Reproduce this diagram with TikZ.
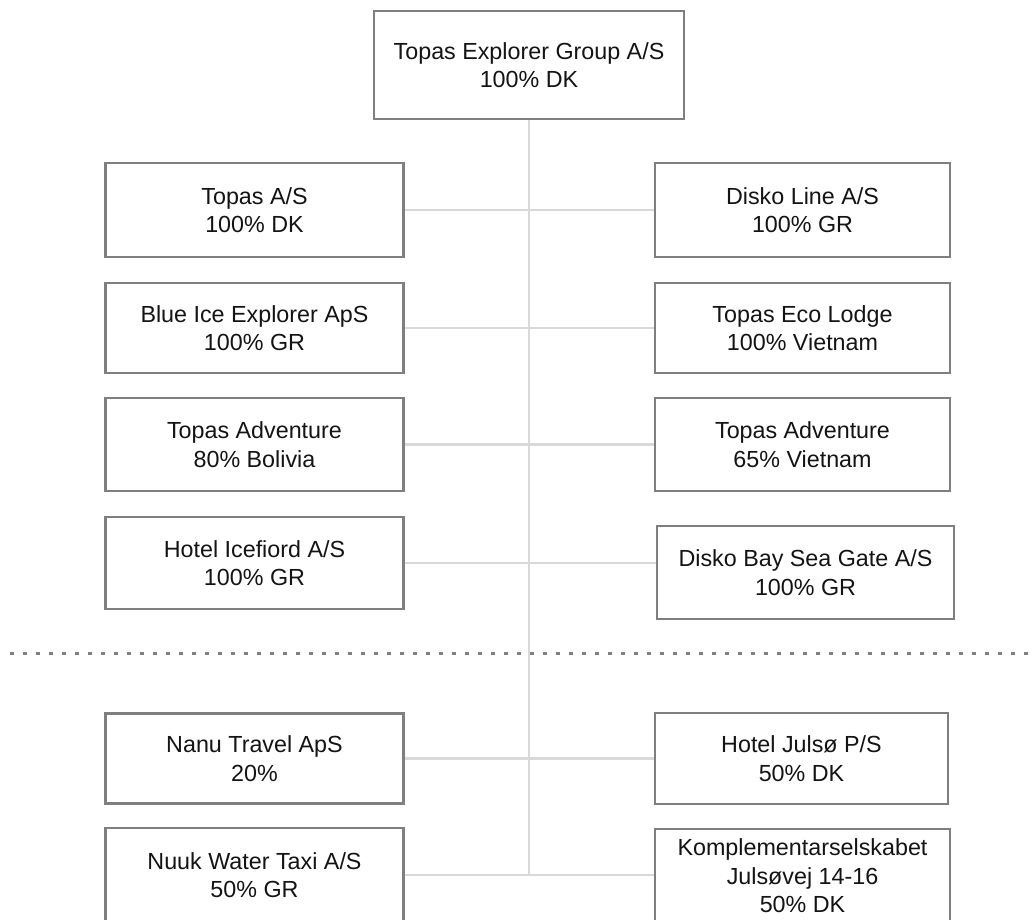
\documentclass[tikz,border=0pt]{standalone}
\usepackage{fontspec}
\setmainfont{Liberation Sans}
\definecolor{boxgray}{HTML}{7F7F7F}
\definecolor{conngray}{HTML}{D9D9D9}
\definecolor{dotgray}{HTML}{808080}
\definecolor{txt}{HTML}{141414}
\tikzset{
  orgbox/.style={draw=boxgray, line width=2.6pt, fill=white, align=center,
    text=txt, font=\fontsize{23.3}{28.5}\selectfont, inner sep=0pt,
    minimum width=298pt, minimum height=92pt},
  conn/.style={draw=conngray, line width=2.6pt},
  sepline/.style={draw=dotgray, line width=3pt, dash pattern=on 4pt off 9pt}
}
\begin{document}
\begin{tikzpicture}[x=1pt,y=-1pt]
\useasboundingbox (0,0) rectangle (1035,920);
\begin{scope}
\clip (0,0) rectangle (1035,920);
% separator
\coordinate (sepL) at (10,653);
\coordinate (sepR) at (1035,653);
\draw[sepline] (sepL) -- (sepR);
% nodes
\node[orgbox, minimum width=310pt, minimum height=108pt] (top) at (529,65) {Topas Explorer Group A/S\\100\% DK};
\node[orgbox, minimum height=94pt] (l1) at (254.5,210) {Topas A/S\\100\% DK};
\node[orgbox, minimum width=295pt, minimum height=94pt] (r1) at (802.5,210) {Disko Line A/S\\100\% GR};
\node[orgbox, minimum height=90pt] (l2) at (254.5,328) {Blue Ice Explorer ApS\\100\% GR};
\node[orgbox, minimum width=295pt, minimum height=90pt] (r2) at (802.5,328) {Topas Eco Lodge\\100\% Vietnam};
\node[orgbox, minimum height=93pt] (l3) at (254.5,444.5) {Topas Adventure\\80\% Bolivia};
\node[orgbox, minimum width=295pt, minimum height=93pt] (r3) at (802.5,444.5) {Topas Adventure\\65\% Vietnam};
\node[orgbox, minimum height=92pt] (l4) at (254.5,563) {Hotel Icefiord A/S\\100\% GR};
\node[orgbox, minimum width=297pt, minimum height=93pt] (r4) at (805.5,572.5) {Disko Bay Sea Gate A/S\\100\% GR};
\node[orgbox, minimum height=90pt] (l5) at (254.5,758.5) {Nanu Travel ApS\\20\%};
\node[orgbox, minimum width=293pt, minimum height=91pt] (r5) at (801.5,758.5) {Hotel Julsø P/S\\50\% DK};
\node[orgbox, minimum height=94pt] (l6) at (254.5,875) {Nuuk Water Taxi A/S\\50\% GR};
\node[orgbox, minimum width=295pt, minimum height=94pt] (r6) at (802.5,876) {Komplementarselskabet\\Julsøvej 14-16\\50\% DK};
\end{scope}
\coordinate (trunkEnd) at (top.south |- l6.east);
\begin{scope}
\clip (0,0) rectangle (1035,920);
\draw[conn] (top.south) -- (trunkEnd);
\draw[conn] (l1.east) -- (r1.west);
\draw[conn] (l2.east) -- (r2.west);
\draw[conn] (l3.east) -- (r3.west);
\draw[conn] (l4.east) -- (l4.east -| r4.west);
\draw[conn] (l5.east) -- (r5.west);
\draw[conn] (l6.east) -- (l6.east -| r6.west);
\end{scope}
\end{tikzpicture}
\end{document}
